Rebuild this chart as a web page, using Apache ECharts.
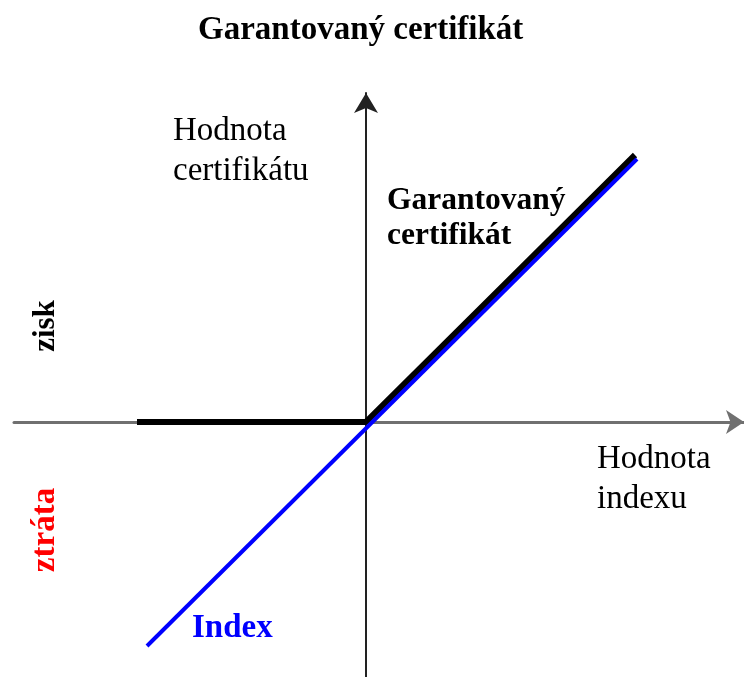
<!DOCTYPE html>
<html>
<head>
<meta charset="utf-8">
<script src="https://cdn.jsdelivr.net/npm/echarts@6/dist/echarts.min.js"></script>
<style>
  html, body { margin: 0; padding: 0; background: #fff; }
  #chart { width: 744px; height: 677px; }
</style>
</head>
<body>
<div id="chart"></div>
<script>
  // Index line (blue) and guaranteed certificate payoff (black)
  const indexX = [-21.9, 27.1];
  const indexY = [-22.4, 26.3];
  const certX = [-22.9, 0, 26.9];
  const certY = [0, 0, 26.7];

  const serif = '"Liberation Serif", "DejaVu Serif", serif';

  const myChart = echarts.init(document.getElementById('chart'));
  const option = {
    backgroundColor: '#fff',
    animation: false,
    title: {
      text: 'Garantovaný certifikát',
      left: 193,
      top: 9,
      textStyle: { fontFamily: serif, fontWeight: 'bold', fontSize: 33, color: '#000' }
    },
    grid: { left: 14, right: 0, top: 93, bottom: 0, containLabel: false },
    xAxis: {
      type: 'value',
      min: -35.2,
      max: 37.8,
      axisLine: {
        onZero: true,
        symbol: ['none', 'arrow'],
        symbolSize: [18, 18],
        lineStyle: { color: '#707070', width: 3 }
      },
      axisTick: { show: false },
      axisLabel: { show: false },
      splitLine: { show: false }
    },
    yAxis: {
      type: 'value',
      min: -25.5,
      max: 32.9,
      axisLine: {
        onZero: true,
        symbol: ['none', 'arrow'],
        symbolSize: [18, 20],
        lineStyle: { color: '#222', width: 2 }
      },
      axisTick: { show: false },
      axisLabel: { show: false },
      splitLine: { show: false }
    },
    series: [
      {
        name: 'Garantovaný certifikát',
        type: 'line',
        symbol: 'none',
        data: certX.map((x, i) => [x, certY[i]]),
        lineStyle: { color: '#000', width: 6 }
      },
      {
        name: 'Index',
        type: 'line',
        symbol: 'none',
        data: indexX.map((x, i) => [x, indexY[i]]),
        lineStyle: { color: '#0000ff', width: 4 }
      }
    ],
    graphic: [
      {
        type: 'text', x: 173, y: 151,
        style: { text: 'Hodnota\ncertifikátu', font: '33px ' + serif, fill: '#000', verticalAlign: 'middle', lineHeight: 40 }
      },
      {
        type: 'text', x: 387, y: 218,
        style: { text: 'Garantovaný\ncertifikát', font: 'bold 31.5px ' + serif, fill: '#000', verticalAlign: 'middle', lineHeight: 35 }
      },
      {
        type: 'text', x: 597, y: 479,
        style: { text: 'Hodnota\nindexu', font: '33px ' + serif, fill: '#000', verticalAlign: 'middle', lineHeight: 40 }
      },
      {
        type: 'text', x: 192, y: 628,
        style: { text: 'Index', font: 'bold 33px ' + serif, fill: '#0000ff', verticalAlign: 'middle' }
      },
      {
        type: 'text', x: 46, y: 326, rotation: Math.PI / 2,
        style: { text: 'zisk', font: 'bold 31px ' + serif, fill: '#000', align: 'center', verticalAlign: 'middle' }
      },
      {
        type: 'text', x: 45, y: 530, rotation: Math.PI / 2,
        style: { text: 'ztráta', font: 'bold 33px ' + serif, fill: '#ff0000', align: 'center', verticalAlign: 'middle' }
      }
    ]
  };
  myChart.setOption(option);
</script>
</body>
</html>
